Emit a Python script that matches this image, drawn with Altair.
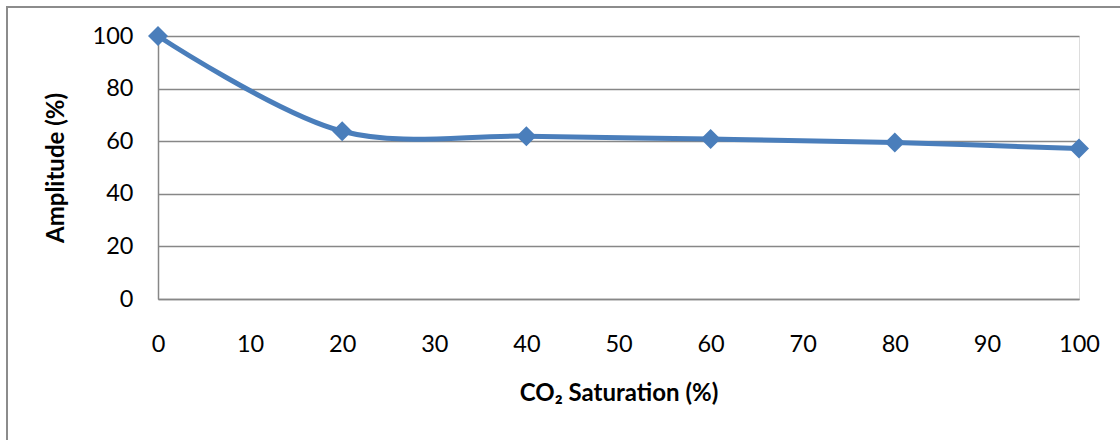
import altair as alt
import pandas as pd

saturation = [0, 20, 40, 60, 80, 100]
amplitude = [100, 63.8, 61.9, 60.8, 59.5, 57.2]

df = pd.DataFrame({"sat": saturation, "amp": amplitude})

FONT = "Lato"
GRID = "#878787"
BLUE = "#4a7ebb"

x = alt.X(
    "sat:Q",
    scale=alt.Scale(domain=[0, 100], nice=False),
    axis=alt.Axis(
        values=list(range(0, 101, 10)),
        title="CO₂ Saturation (%)",
        grid=False,
        ticks=False,
        domainColor=GRID,
        domainWidth=1.5,
        labelFlush=False,
        labelPadding=33,
        labelFontSize=23.5,
        labelFont=FONT,
        labelColor="#000000",
        titleFont=FONT,
        titleFontSize=24,
        titleFontWeight="bold",
        titleColor="#000000",
        titlePadding=26,
    ),
)
y = alt.Y(
    "amp:Q",
    scale=alt.Scale(domain=[0, 100], nice=False),
    axis=alt.Axis(
        values=list(range(0, 101, 20)),
        title="Amplitude (%)",
        grid=True,
        gridColor=GRID,
        gridWidth=1.5,
        ticks=False,
        domainColor=GRID,
        domainWidth=1.5,
        labelFlush=False,
        labelPadding=25,
        labelFontSize=23.5,
        labelFont=FONT,
        labelColor="#000000",
        titleFont=FONT,
        titleFontSize=24,
        titleFontWeight="bold",
        titleColor="#000000",
        titlePadding=24,
    ),
)

border = alt.Chart(df).mark_rect(
    fill=None, stroke="#8c8c8c", strokeWidth=2, clip=False
).encode(
    x=alt.value(-151), x2=alt.value(1200), y=alt.value(-29), y2=alt.value(600)
)

line = alt.Chart(df).mark_line(
    color=BLUE, strokeWidth=5, interpolate="catmull-rom"
).encode(x=x, y=y)

points = alt.Chart(df).mark_point(
    shape="diamond", filled=True, color=BLUE, size=400, opacity=1
).encode(x="sat:Q", y="amp:Q")

chart = alt.layer(line, points, border).properties(
    width=921,
    height=263,
    autosize=alt.AutoSizeParams(type="none"),
    padding={"left": 158, "top": 36, "right": 41, "bottom": 141},
).configure_view(stroke=None).configure(background="white")

chart.save("out.html", embed_options={"renderer": "svg", "actions": False})
